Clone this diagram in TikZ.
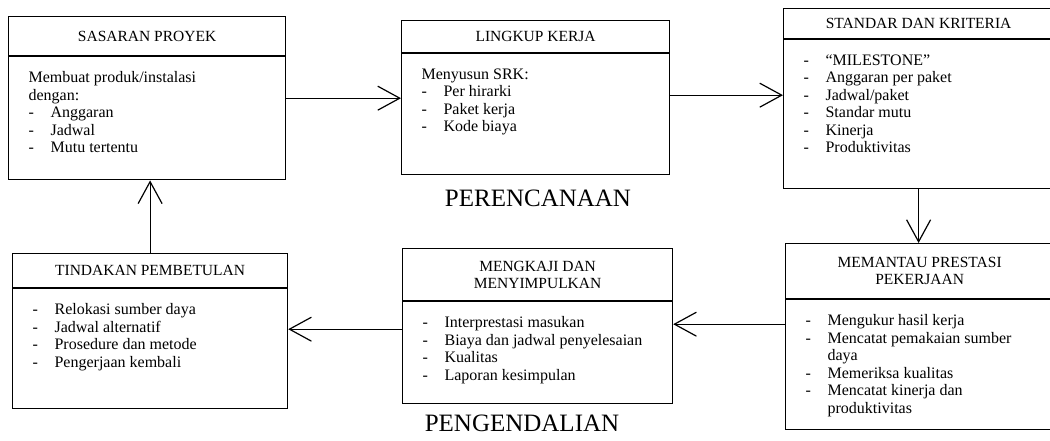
\documentclass[tikz,border=0pt]{standalone}
\usepackage{fontspec}
\setmainfont{Liberation Serif}
\usetikzlibrary{arrows.meta,positioning}
\newcommand{\butir}{\makebox[22pt][l]{-}}
\newcommand{\isikotak}[3]{\parbox[c][#1][t]{#2}{\vspace*{15pt}#3}}

\begin{document}
\begin{tikzpicture}[x=1pt,y=-1pt,line width=1.2pt,
    judul/.style={draw,anchor=north west,align=center,inner sep=0pt,font=\fontsize{15.5}{17}\selectfont},
    isi/.style={draw,inner xsep=20pt,inner ysep=0pt,font=\fontsize{16}{17.5}\selectfont},
    fase/.style={font=\fontsize{25}{30}\selectfont},
    panah/.style={-{Straight Barb[length=22pt,width=24pt]}}]
  \useasboundingbox (0,0) rectangle (1050,441);
  \clip (0,0) rectangle (1050,441);

  \node[judul,minimum width=277pt,minimum height=39pt] (sasaran) at (8,16) {SASARAN PROYEK};
  \node[isi,below=0pt of sasaran] (sasaranisi) {\isikotak{123pt}{237pt}{Membuat produk/instalasi\\dengan:\\\butir Anggaran\\\butir Jadwal\\\butir Mutu tertentu}};

  \node[judul,minimum width=268pt,minimum height=32pt] (lingkup) at (401,20) {LINGKUP KERJA};
  \node[isi,below=0pt of lingkup] (lingkupisi) {\isikotak{121pt}{228pt}{Menyusun SRK:\\\butir Per hirarki\\\butir Paket kerja\\\butir Kode biaya}};

  \node[judul,minimum width=270pt,minimum height=30pt] (standar) at (783,8) {STANDAR DAN KRITERIA};
  \node[isi,below=0pt of standar] (standarisi) {\isikotak{149pt}{230pt}{\butir “MILESTONE”\\\butir Anggaran per paket\\\butir Jadwal/paket\\\butir Standar mutu\\\butir Kinerja\\\butir Produktivitas}};

  \node[judul,minimum width=268pt,minimum height=55pt] (pantau) at (785,243) {MEMANTAU PRESTASI\\PEKERJAAN};
  \node[isi,below=0pt of pantau] (pantauisi) {\isikotak{130pt}{228pt}{\butir Mengukur hasil kerja\\\butir Mencatat pemakaian sumber\\\hspace*{22pt}daya\\\butir Memeriksa kualitas\\\butir Mencatat kinerja dan\\\hspace*{22pt}produktivitas}};

  \node[judul,minimum width=270pt,minimum height=52pt] (kaji) at (402,248) {MENGKAJI DAN\\MENYIMPULKAN};
  \node[isi,below=0pt of kaji] (kajiisi) {\isikotak{102pt}{230pt}{\butir Interprestasi masukan\\\butir Biaya dan jadwal penyelesaian\\\butir Kualitas\\\butir Laporan kesimpulan}};

  \node[judul,minimum width=275pt,minimum height=34pt] (tindakan) at (12,253) {TINDAKAN PEMBETULAN};
  \node[isi,below=0pt of tindakan] (tindakanisi) {\isikotak{120pt}{235pt}{\butir Relokasi sumber daya\\\butir Jadwal alternatif\\\butir Prosedure dan metode\\\butir Pengerjaan kembali}};

  \node[fase] (perencanaan) at (538,198) {PERENCANAAN};
  \node[fase] (pengendalian) at (522,423) {PENGENDALIAN};

  \draw[panah] ([yshift=-42pt]sasaranisi.north east) -- ([yshift=-42pt]sasaranisi.north east -| lingkupisi.west);
  \draw[panah] ([yshift=-42pt]lingkupisi.north east) -- ([yshift=-42pt]lingkupisi.north east -| standarisi.west);
  \draw[panah] (standarisi.south) -- (standarisi.south |- pantau.north);
  \draw[panah] ([yshift=-25pt]pantauisi.north west) -- ([yshift=-25pt]pantauisi.north west -| kajiisi.east);
  \draw[panah] ([yshift=-28pt]kajiisi.north west) -- ([yshift=-28pt]kajiisi.north west -| tindakanisi.east);
  \draw[panah] (tindakan.north) -- (tindakan.north |- sasaranisi.south);
\end{tikzpicture}
\end{document}
